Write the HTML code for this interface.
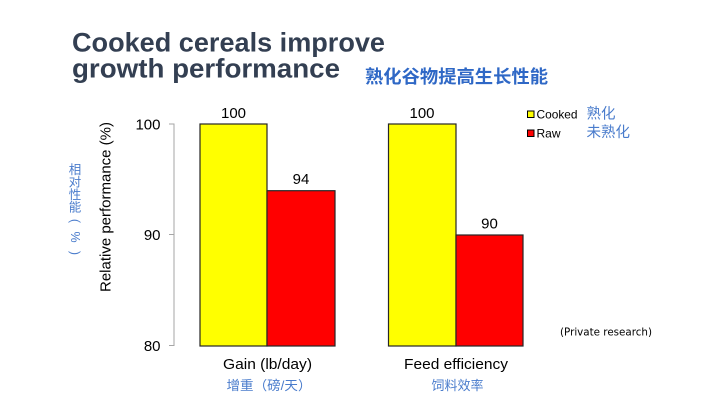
<!DOCTYPE html>
<html>
<head>
<meta charset="utf-8">
<style>
  html, body { margin: 0; padding: 0; background: #ffffff; }
  body { width: 720px; height: 405px; overflow: hidden; }
  svg { display: block; }
  .lat { font-family: "Liberation Sans", Arial, sans-serif; }
  .cjk { font-family: "Liberation Sans", "Noto Sans CJK SC", "WenQuanYi Zen Hei", sans-serif; }
</style>
</head>
<body>
<svg width="720" height="405" viewBox="0 0 720 405" xmlns="http://www.w3.org/2000/svg">
  <rect x="0" y="0" width="720" height="405" fill="#ffffff"/>

  <!-- Title -->
  <text class="lat" x="72" y="51.5" font-size="27" font-weight="bold" fill="#333f52" textLength="313" lengthAdjust="spacingAndGlyphs">Cooked cereals improve</text>
  <text class="lat" x="72" y="77.5" font-size="27" font-weight="bold" fill="#333f52" textLength="268" lengthAdjust="spacingAndGlyphs">growth performance</text>
  <text class="cjk" x="365" y="83" font-size="18" font-weight="bold" fill="#2f68c6" textLength="183" lengthAdjust="spacingAndGlyphs">熟化谷物提高生长性能</text>

  <!-- Vertical Chinese axis note -->
  <g class="cjk" font-size="12.5" fill="#4a7ccc" text-anchor="middle">
    <text x="75" y="174">相</text>
    <text x="75" y="186.5">对</text>
    <text x="75" y="199">性</text>
    <text x="75" y="211.5">能</text>
    <text x="75" y="225" transform="rotate(90 75 221)" class="lat">(</text>
    <text x="75" y="241" transform="rotate(90 75 237)" class="lat">%</text>
    <text x="75" y="257" transform="rotate(90 75 253)" class="lat">)</text>
  </g>

  <!-- Y axis title -->
  <text class="lat" transform="translate(110.5 207) rotate(-90)" font-size="15" text-anchor="middle" fill="#000" textLength="170" lengthAdjust="spacingAndGlyphs">Relative performance (%)</text>

  <!-- Axis -->
  <line x1="174" y1="123.5" x2="174" y2="346" stroke="#a6a6a6" stroke-width="1"/>
  <line x1="169" y1="124" x2="174" y2="124" stroke="#a6a6a6" stroke-width="1"/>
  <line x1="169" y1="234.5" x2="174" y2="234.5" stroke="#a6a6a6" stroke-width="1"/>
  <line x1="169" y1="345.5" x2="174" y2="345.5" stroke="#a6a6a6" stroke-width="1"/>

  <!-- Tick labels -->
  <g class="lat" font-size="15" fill="#000" text-anchor="end">
    <text x="160.5" y="129.5">100</text>
    <text x="160.5" y="240">90</text>
    <text x="160.5" y="351">80</text>
  </g>

  <!-- Bars -->
  <g stroke="#262626" stroke-width="1.2">
    <rect x="200" y="124" width="67" height="222" fill="#ffff00"/>
    <rect x="267" y="190.7" width="68" height="155.3" fill="#ff0000"/>
    <rect x="388.5" y="124" width="67.5" height="222" fill="#ffff00"/>
    <rect x="456" y="235" width="67" height="111" fill="#ff0000"/>
  </g>

  <!-- Bar value labels -->
  <g class="lat" font-size="15" fill="#000" text-anchor="middle">
    <text x="233.5" y="118">100</text>
    <text x="301" y="184">94</text>
    <text x="422" y="118">100</text>
    <text x="489.5" y="228.5">90</text>
  </g>

  <!-- Category labels -->
  <text class="lat" x="267.5" y="369" font-size="15" text-anchor="middle" fill="#000" textLength="89" lengthAdjust="spacingAndGlyphs">Gain (lb/day)</text>
  <text class="cjk" x="269" y="390" font-size="13" text-anchor="middle" fill="#4a7ccc" textLength="85" lengthAdjust="spacingAndGlyphs">增重（磅/天）</text>
  <text class="lat" x="456" y="369" font-size="15" text-anchor="middle" fill="#000" textLength="104" lengthAdjust="spacingAndGlyphs">Feed efficiency</text>
  <text class="cjk" x="457.5" y="390" font-size="13" text-anchor="middle" fill="#4a7ccc">饲料效率</text>

  <!-- Legend -->
  <rect x="527.5" y="111" width="6.5" height="6.5" fill="#ffff00" stroke="#000" stroke-width="1"/>
  <rect x="527.5" y="130" width="6.5" height="6.5" fill="#ff0000" stroke="#000" stroke-width="1"/>
  <text class="lat" x="536.5" y="118.5" font-size="12" fill="#000" textLength="41" lengthAdjust="spacingAndGlyphs">Cooked</text>
  <text class="lat" x="536.5" y="137.5" font-size="12" fill="#000">Raw</text>
  <text class="cjk" x="586.5" y="118.5" font-size="14.5" fill="#4a7ccc">熟化</text>
  <text class="cjk" x="586.5" y="137" font-size="14.5" fill="#4a7ccc">未熟化</text>

  <!-- Source note -->
  <text x="560" y="335.5" font-size="10.5" fill="#000" font-family="'DejaVu Sans', 'Liberation Sans', sans-serif" textLength="92" lengthAdjust="spacingAndGlyphs">(Private research)</text>
</svg>
</body>
</html>
